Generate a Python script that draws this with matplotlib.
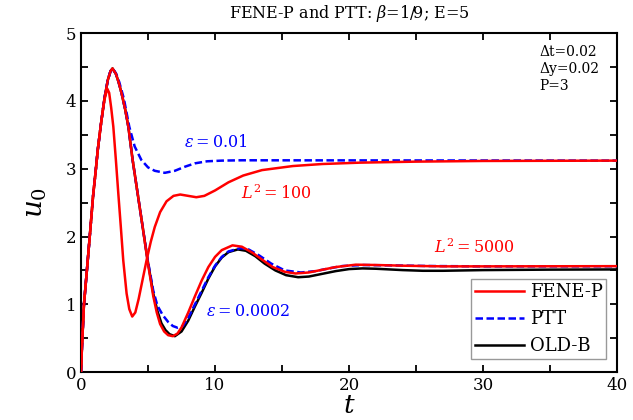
import matplotlib
matplotlib.use("Agg")
import matplotlib.pyplot as plt
from matplotlib.ticker import MultipleLocator

plt.rcParams["font.family"] = ["DejaVu Serif"]
plt.rcParams["mathtext.fontset"] = "dejavuserif"

# Start-up velocity u0(t): shared initial rise
t_rise = [0.0, 0.07, 0.22, 0.45, 0.65, 0.9, 1.1, 1.25, 1.5, 1.75, 2.0, 2.2, 2.35]
u_rise = [0.0, 0.37, 1.0, 1.53, 2.0, 2.6, 2.98, 3.28, 3.68, 4.04, 4.31, 4.44, 4.48]

# OLD-B
t_oldb = [2.6, 2.8, 3.03, 3.3, 3.53, 3.85, 4.22, 4.6, 4.97, 5.39, 5.7, 6.0, 6.3,
          6.6, 7.0, 7.5, 8.0, 8.5, 9.0, 9.5, 10.0, 10.5, 11.0, 11.7, 12.3, 13.0,
          13.7, 14.5, 15.3, 16.2, 17.0, 18.0, 19.0, 20.0, 21.0, 22.0, 23.0, 24.0,
          25.5, 27.0, 30.0, 35.0, 40.0]
u_oldb = [4.4, 4.28, 4.11, 3.87, 3.62, 3.13, 2.64, 2.14, 1.65, 1.16, 0.9, 0.72,
          0.62, 0.56, 0.53, 0.6, 0.76, 0.97, 1.17, 1.38, 1.56, 1.69, 1.77, 1.81,
          1.79, 1.71, 1.6, 1.5, 1.43, 1.4, 1.41, 1.45, 1.49, 1.52, 1.53, 1.525,
          1.515, 1.505, 1.495, 1.495, 1.505, 1.512, 1.515]

# FENE-P, L^2 = 5000
t_fene5000 = [2.6, 2.8, 3.03, 3.3, 3.53, 3.85, 4.22, 4.6, 4.97, 5.39, 5.65, 5.9,
              6.2, 6.5, 6.85, 7.2, 7.5, 8.0, 8.5, 9.0, 9.5, 10.0, 10.5, 11.3,
              12.0, 12.8, 13.5, 14.3, 15.2, 16.0, 17.0, 18.0, 19.0, 20.5, 22.0,
              24.0, 27.0, 30.0, 40.0]
u_fene5000 = [4.4, 4.28, 4.11, 3.87, 3.62, 3.13, 2.64, 2.14, 1.63, 1.12, 0.88,
              0.71, 0.6, 0.545, 0.53, 0.57, 0.66, 0.88, 1.12, 1.35, 1.55, 1.7,
              1.8, 1.87, 1.85, 1.76, 1.66, 1.55, 1.48, 1.455, 1.47, 1.51, 1.55,
              1.585, 1.58, 1.57, 1.56, 1.56, 1.563]

# FENE-P, L^2 = 100
t_fene100 = [1.75, 1.96, 2.1, 2.25, 2.41, 2.6, 2.78, 2.97, 3.15, 3.4, 3.6, 3.82,
             4.05, 4.3, 4.6, 4.89, 5.2, 5.5, 5.9, 6.38, 6.9, 7.4, 8.0, 8.6, 9.2,
             10.0, 11.0, 12.1, 13.5, 15.8, 18.0, 20.8, 25.0, 30.0, 40.0]
u_fene100 = [4.02, 4.18, 4.12, 3.9, 3.62, 3.13, 2.64, 2.14, 1.65, 1.16, 0.93,
             0.82, 0.88, 1.08, 1.37, 1.65, 1.92, 2.14, 2.36, 2.52, 2.6, 2.62,
             2.6, 2.58, 2.6, 2.68, 2.8, 2.9, 2.98, 3.04, 3.07, 3.09, 3.105,
             3.115, 3.12]

# PTT, eps = 0.0002
t_ptt0002 = [2.6, 2.8, 3.03, 3.3, 3.53, 3.85, 4.22, 4.6, 4.97, 5.39, 5.7, 6.1,
             6.5, 6.85, 7.2, 7.6, 8.0, 8.5, 9.0, 9.5, 10.0, 10.5, 11.0, 11.9,
             12.5, 13.3, 14.2, 15.2, 16.4, 17.5, 18.5, 19.5, 21.0, 23.0, 26.0,
             30.0, 40.0]
u_ptt0002 = [4.4, 4.28, 4.11, 3.87, 3.62, 3.13, 2.64, 2.14, 1.66, 1.2, 0.98,
             0.84, 0.74, 0.68, 0.655, 0.68, 0.8, 1.0, 1.2, 1.4, 1.57, 1.7, 1.78,
             1.83, 1.81, 1.72, 1.6, 1.5, 1.47, 1.49, 1.53, 1.565, 1.58, 1.575,
             1.565, 1.56, 1.562]

# PTT, eps = 0.01
t_ptt01 = [2.6, 2.85, 3.2, 3.6, 4.0, 4.5, 5.0, 5.5, 6.25, 7.0, 7.75, 8.5, 9.4,
           10.5, 12.0, 40.0]
u_ptt01 = [4.41, 4.28, 4.03, 3.62, 3.33, 3.13, 3.02, 2.97, 2.94, 2.97, 3.03,
           3.08, 3.11, 3.12, 3.125, 3.12]

RED, BLUE, BLACK = "#ff0000", "#0000ff", "#000000"
LW = 1.8
DASH = (3.0, 1.4)

fig = plt.figure(figsize=(6.33, 4.20), dpi=100)
ax = fig.add_axes([0.128, 0.114, 0.847, 0.807])

ax.plot(t_rise + t_oldb, u_rise + u_oldb, color=BLACK, lw=LW, label="OLD-B", zorder=2)
ax.plot(t_rise + t_ptt0002, u_rise + u_ptt0002, color=BLUE, lw=LW, ls=(0, DASH), zorder=3)
ax.plot(t_rise + t_ptt01, u_rise + u_ptt01, color=BLUE, lw=LW, ls=(0, DASH), label="PTT", zorder=3)
ax.plot(t_rise + t_fene5000, u_rise + u_fene5000, color=RED, lw=LW, zorder=4)
ax.plot(t_rise[:-4] + t_fene100, u_rise[:-4] + u_fene100, color=RED, lw=LW, label="FENE-P", zorder=4)

ax.set_xlim(0, 40)
ax.set_ylim(0, 5)
ax.xaxis.set_major_locator(MultipleLocator(10))
ax.xaxis.set_minor_locator(MultipleLocator(5))
ax.yaxis.set_major_locator(MultipleLocator(1))
ax.yaxis.set_minor_locator(MultipleLocator(0.5))
ax.tick_params(which="both", direction="in", top=True, right=True, labelsize=12, width=1.3)
ax.tick_params(which="major", length=5)
ax.tick_params(which="minor", length=5)
for s in ax.spines.values():
    s.set_linewidth(1.5)

ax.set_xlabel("$t$", fontsize=19, labelpad=-1)
ax.set_ylabel("$u_0$", fontsize=20, labelpad=12)
ax.set_title(r"FENE-P and PTT: $\beta$=1/9; E=5", fontsize=11.5, pad=11)

ax.text(7.7, 3.38, r"$\varepsilon = 0.01$", color=BLUE, fontsize=11.5, va="center")
ax.text(11.97, 2.64, r"$L^2 = 100$", color=RED, fontsize=11.5, va="center")
ax.text(9.36, 0.90, r"$\varepsilon = 0.0002$", color=BLUE, fontsize=11.5, va="center")
ax.text(26.37, 1.83, r"$L^2 = 5000$", color=RED, fontsize=11.5, va="center")
ax.text(34.2, 4.83, "\u0394t=0.02\n\u0394y=0.02\nP=3", fontsize=10, va="top", linespacing=1.3)

handles, labels = ax.get_legend_handles_labels()
order = [labels.index(n) for n in ["FENE-P", "PTT", "OLD-B"]]
leg = ax.legend([handles[i] for i in order], [labels[i] for i in order],
                loc="lower right", fontsize=13, frameon=True, fancybox=False,
                edgecolor="#999999", framealpha=1, handlelength=2.7,
                bbox_to_anchor=(0.98, 0.04), bbox_transform=ax.transAxes,
                borderaxespad=0.0, borderpad=0.2, labelspacing=0.5,
                handletextpad=0.35)
leg.get_frame().set_linewidth(1.0)

fig.savefig("out.png", dpi=100)
